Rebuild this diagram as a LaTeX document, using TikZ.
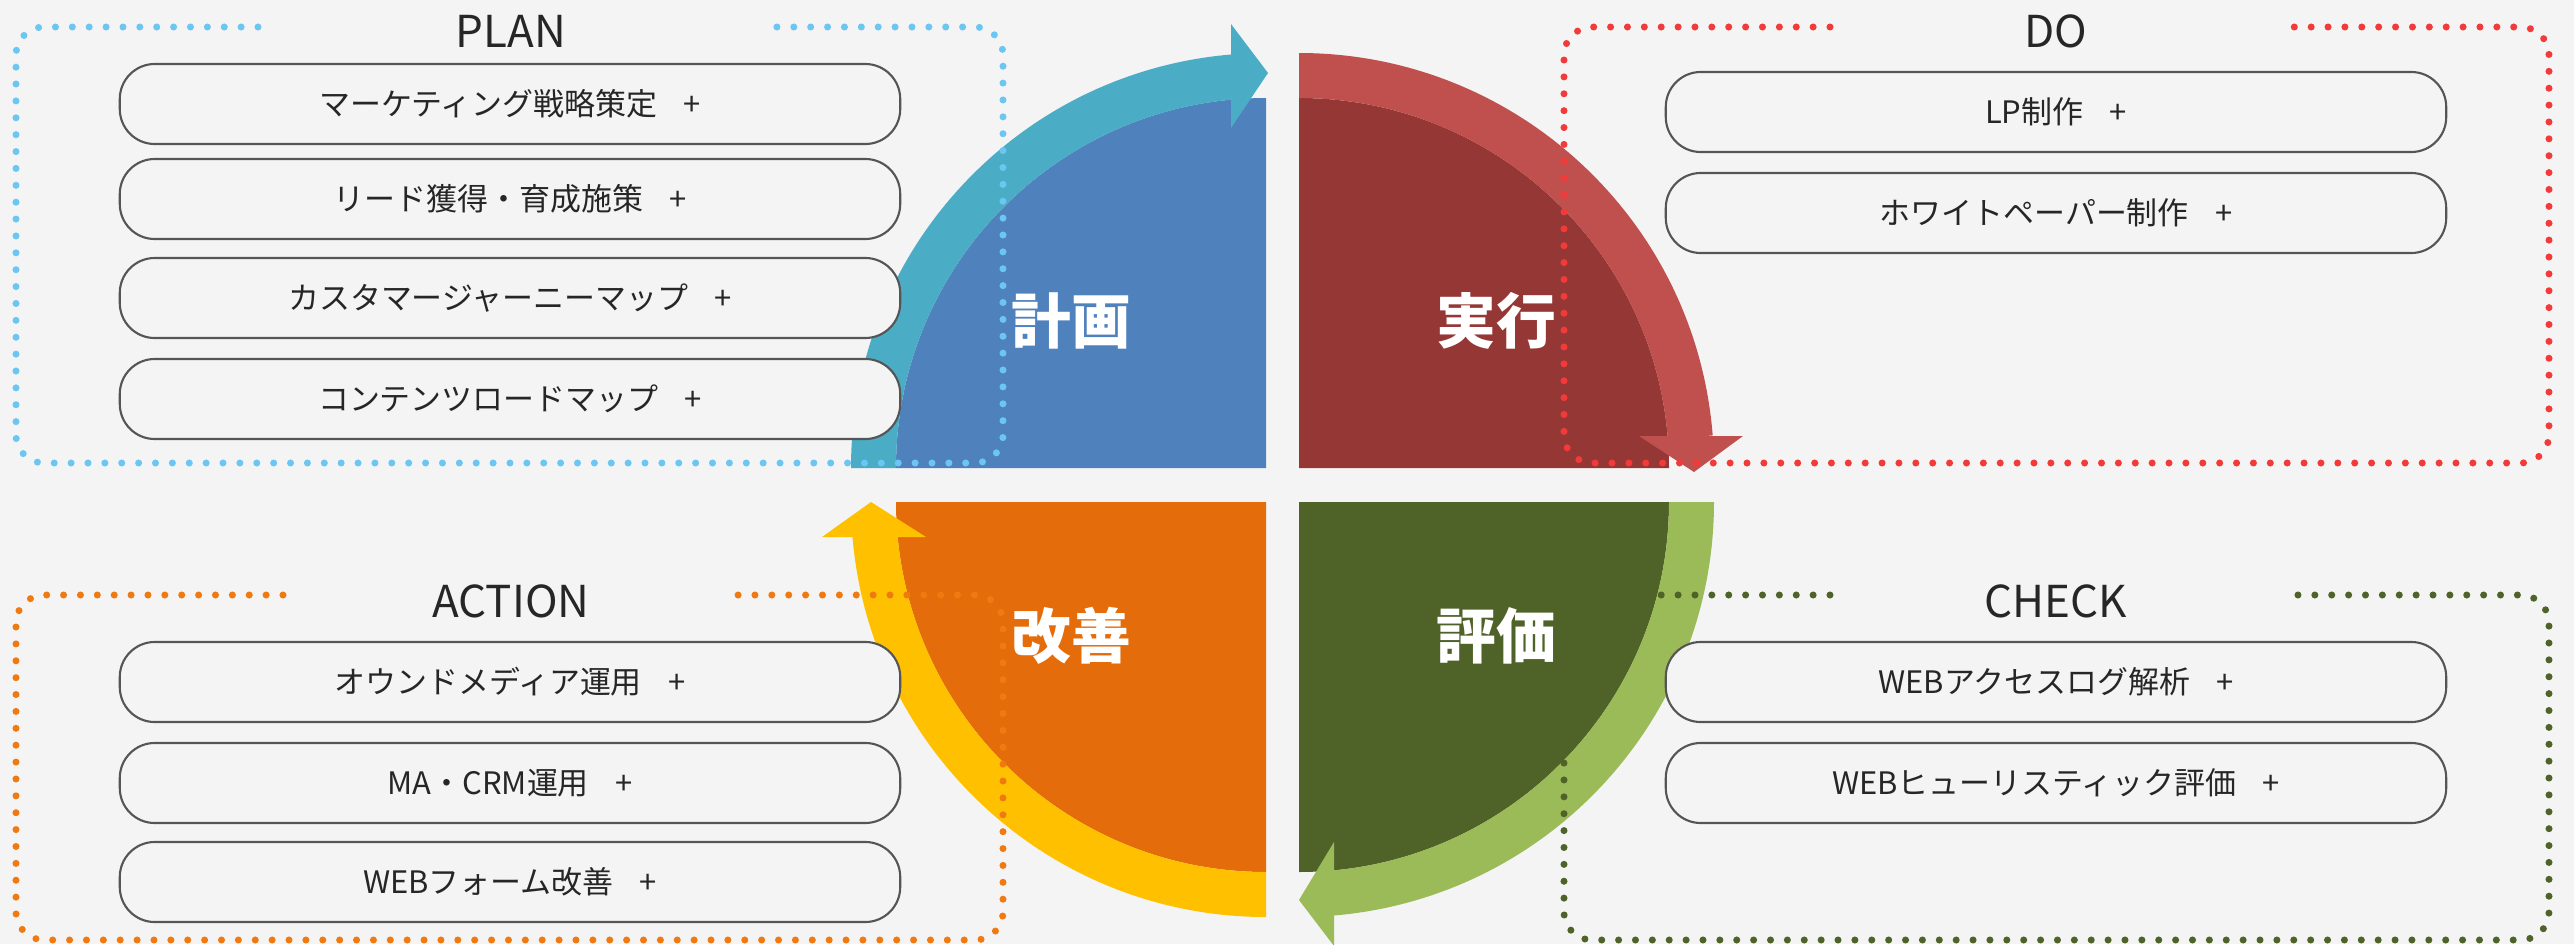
\documentclass[tikz,border=0pt]{standalone}
\usepackage{fontspec}
\setmainfont{Noto Sans CJK JP}
\usetikzlibrary{calc}
\definecolor{bg}{HTML}{F4F4F4}
\definecolor{qblue}{HTML}{4F81BD}
\definecolor{ablue}{HTML}{4BACC6}
\definecolor{qred}{HTML}{953735}
\definecolor{ared}{HTML}{C0504D}
\definecolor{qorange}{HTML}{E46C0A}
\definecolor{ayellow}{HTML}{FFC000}
\definecolor{qgreen}{HTML}{4F6228}
\definecolor{agreen}{HTML}{9BBB59}
\definecolor{dplan}{HTML}{6CC6F2}
\definecolor{ddo}{HTML}{F23A3A}
\definecolor{dact}{HTML}{F07A12}
\definecolor{dchk}{HTML}{4F6228}
\definecolor{btnline}{HTML}{555555}
\definecolor{txt}{HTML}{262626}
\tikzset{
  btn/.style={draw=btnline, line width=0.6pt, fill=bg, rounded corners=0.35cm,
    minimum width=7.8cm, minimum height=0.8cm, inner sep=0pt,
    font=\fontsize{8.8pt}{10pt}\selectfont, text=txt},
  dotbox/.style={line width=2pt, line cap=round, dash pattern=on 0pt off 4.8pt, rounded corners=0.28cm},
  hdr/.style={font=\fontsize{12.5pt}{14pt}\selectfont, text=txt, inner sep=0pt},
  qlbl/.style={font=\fontsize{17pt}{19pt}\selectfont\bfseries, text=white, inner sep=0pt}
}
\begin{document}
\begin{tikzpicture}[x=0.01cm,y=0.01cm]
\fill[bg] (0,0) rectangle (2574,944);
\useasboundingbox (0,0) rectangle (2574,944);

% quadrant corners
\coordinate (cB) at (1266,476);
\coordinate (cR) at (1299,476);
\coordinate (cO) at (1266,442);
\coordinate (cG) at (1299,442);

% quadrants
\fill[qblue] (cB) -- ($(cB)+(180:370)$) arc[start angle=180,end angle=90,radius=370] -- cycle;
\fill[qred] (cR) -- ($(cR)+(90:370)$) arc[start angle=90,end angle=0,radius=370] -- cycle;
\fill[qgreen] (cG) -- ($(cG)+(0:370)$) arc[start angle=0,end angle=-90,radius=370] -- cycle;
\fill[qorange] (cO) -- ($(cO)+(-90:370)$) arc[start angle=-90,end angle=-180,radius=370] -- cycle;

% circular arrows
\fill[ablue] ($(cB)+(180:370)$) arc[start angle=180,end angle=94.5,radius=370]
  -- ($(cB)+(94.5:415)$) arc[start angle=94.5,end angle=180,radius=415] -- cycle;
\fill[ablue] ($(cB)+(-35,340)$) -- ($(cB)+(-35,444)$) -- ($(cB)+(2,395)$) -- cycle;

\fill[ared] ($(cR)+(90:370)$) arc[start angle=90,end angle=4.5,radius=370]
  -- ($(cR)+(4.5:415)$) arc[start angle=4.5,end angle=90,radius=415] -- cycle;
\fill[ared] ($(cR)+(340,32)$) -- ($(cR)+(444,32)$) -- ($(cR)+(395,-4)$) -- cycle;

\fill[agreen] ($(cG)+(0:370)$) arc[start angle=0,end angle=-85.5,radius=370]
  -- ($(cG)+(-85.5:415)$) arc[start angle=-85.5,end angle=0,radius=415] -- cycle;
\fill[agreen] ($(cG)+(35,-340)$) -- ($(cG)+(35,-444)$) -- ($(cG)+(0,-398)$) -- cycle;

\fill[ayellow] ($(cO)+(-90:370)$) arc[start angle=-90,end angle=-175.5,radius=370]
  -- ($(cO)+(-175.5:415)$) arc[start angle=-175.5,end angle=-90,radius=415] -- cycle;
\fill[ayellow] ($(cO)+(-340,-35)$) -- ($(cO)+(-444,-35)$) -- ($(cO)+(-395,0)$) -- cycle;

% quadrant labels
\node[qlbl] (qplan) at (1071,623) {計画};
\node[qlbl] (qdo) at (1496,623) {実行};
\node[qlbl] (qact) at (1071,308) {改善};
\node[qlbl] (qchk) at (1496,308) {評価};

% buttons
\node[btn] (plan1) at (510,840) {マーケティング戦略策定\hspace{0.85em}+};
\node[btn] (plan2) at (510,745) {リード獲得・育成施策\hspace{0.85em}+};
\node[btn] (plan3) at (510,646) {カスタマージャーニーマップ\hspace{0.85em}+};
\node[btn] (plan4) at (510,545) {コンテンツロードマップ\hspace{0.85em}+};

\node[btn] (do1) at (2056,832) {LP制作\hspace{0.85em}+};
\node[btn] (do2) at (2056,731) {ホワイトペーパー制作\hspace{0.85em}+};

\node[btn] (act1) at (510,262) {オウンドメディア運用\hspace{0.85em}+};
\node[btn] (act2) at (510,161) {MA・CRM運用\hspace{0.85em}+};
\node[btn] (act3) at (510,62) {WEBフォーム改善\hspace{0.85em}+};

\node[btn] (chk1) at (2056,262) {WEBアクセスログ解析\hspace{0.85em}+};
\node[btn] (chk2) at (2056,161) {WEBヒューリスティック評価\hspace{0.85em}+};

% dotted group frames
\draw[dotbox, dplan] (258,917) -- (16,917) -- (16,481) -- (1003,481) -- (1003,917) -- (763,917);
\draw[dotbox, ddo] (1830,917) -- (1564,917) -- (1564,481) -- (2549,481) -- (2549,917) -- (2282,917);
\draw[dotbox, dact] (283,349) -- (16,349) -- (16,4) -- (1003,4) -- (1003,349) -- (735,349);
\draw[dotbox, dchk] (1830,349) -- (1564,349) -- (1564,4) -- (2549,4) -- (2549,349) -- (2282,349);

% group headers
\node[hdr] (hplan) at (511,913) {PLAN};
\node[hdr] (hdo) at (2056,913) {DO};
\node[hdr] (hact) at (511,343) {ACTION};
\node[hdr] (hchk) at (2056,343) {CHECK};
\end{tikzpicture}
\end{document}
